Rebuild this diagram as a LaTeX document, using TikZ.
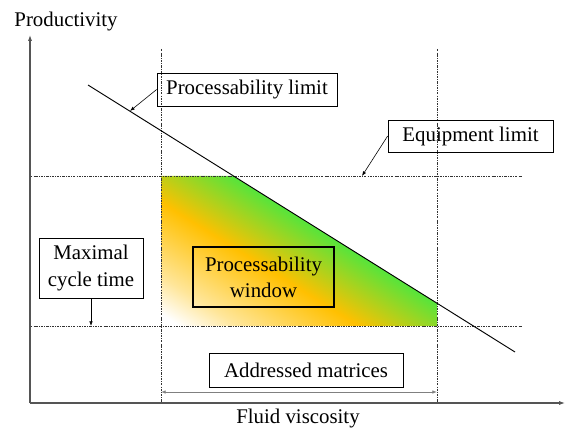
\documentclass[tikz,border=0pt]{standalone}
\usepackage{fontspec}
\setmainfont{Liberation Serif}
\usepackage{tikz}
\usetikzlibrary{arrows.meta}
\definecolor{winorange}{RGB}{255,192,0}
\definecolor{wingreen}{RGB}{55,235,70}
\definecolor{axisgray}{RGB}{85,85,85}
\pgfdeclareverticalshading{windowshade}{100bp}{color(0bp)=(white); color(18bp)=(white); color(26bp)=(winorange!40!white); color(42bp)=(winorange); color(60bp)=(wingreen); color(100bp)=(wingreen)}
\tikzset{
  labelbox/.style={draw, line width=0.6pt, align=center, inner sep=0pt},
  guide/.style={black!80, line width=0.5pt, dash pattern=on 2pt off 1pt on 0.6pt off 1pt},
  pointer/.style={-{Latex[length=4pt,width=3pt]}, line width=0.5pt},
  axisline/.style={axisgray, line width=1.1pt, -{Latex[length=5pt,width=3.5pt]}}
}

\begin{document}
\begin{tikzpicture}[x=0.03cm, y=-0.03cm, font=\fontsize{17.8}{22.3}\selectfont]
          \useasboundingbox (0,0) rectangle (566,428);
          \shade[shading=windowshade, shading angle=-32] (161,326) -- (161,176) -- (233,176) -- (437,303) -- (437,326) -- cycle;
          \draw[guide] (30,176) -- (522,176);
          \draw[guide] (30,326) -- (522,326);
          \draw[guide] (161,49) -- (161,403);
          \draw[guide] (437,49) -- (437,403);
          \coordinate (o) at (30,403);
          \coordinate (ytip) at (30,35);
          \coordinate (xtip) at (565,403);
          \draw[axisline] (o) -- (ytip);
          \draw[axisline] (o) -- (xtip);
          \node[anchor=base] at (66,27) (ylab) {Productivity};
          \node[anchor=base] at (298,423) (xlab) {Fluid viscosity};
          \coordinate (lstart) at (88,85);
          \coordinate (lend) at (515,352);
          \draw[line width=0.8pt] (lstart) -- (lend);
          \node[labelbox, minimum width=5.4cm, minimum height=0.99cm] at (247,89.5) (plim) {Processability limit};
          \coordinate (ponline) at (130,111);
          \draw[pointer] (plim.west) -- (ponline);
          \node[labelbox, minimum width=4.95cm, minimum height=0.96cm] at (470.5,136) (eqlim) {Equipment limit};
          \coordinate (eqonline) at (362,176);
          \draw[pointer] (eqlim.west) -- (eqonline);
          \node[labelbox, minimum width=3.12cm, minimum height=1.8cm] at (91,268) (maxcyc) {Maximal\\cycle time};
          \coordinate (cyconline) at (91,326);
          \draw[pointer] (maxcyc.south) -- (cyconline);
          \node[labelbox, line width=1.2pt, minimum width=4.23cm, minimum height=1.8cm] at (263.5,277) (win) {Processability\\window};
          \node[labelbox, minimum width=5.82cm, minimum height=1.02cm] at (306,370) (addr) {Addressed matrices};
          \coordinate (amin) at (161,392);
          \coordinate (amax) at (437,392);
          \draw[gray, line width=0.7pt, {Latex[length=4pt,width=3pt]}-{Latex[length=4pt,width=3pt]}] (amin) -- (amax);
        \end{tikzpicture}
\end{document}
